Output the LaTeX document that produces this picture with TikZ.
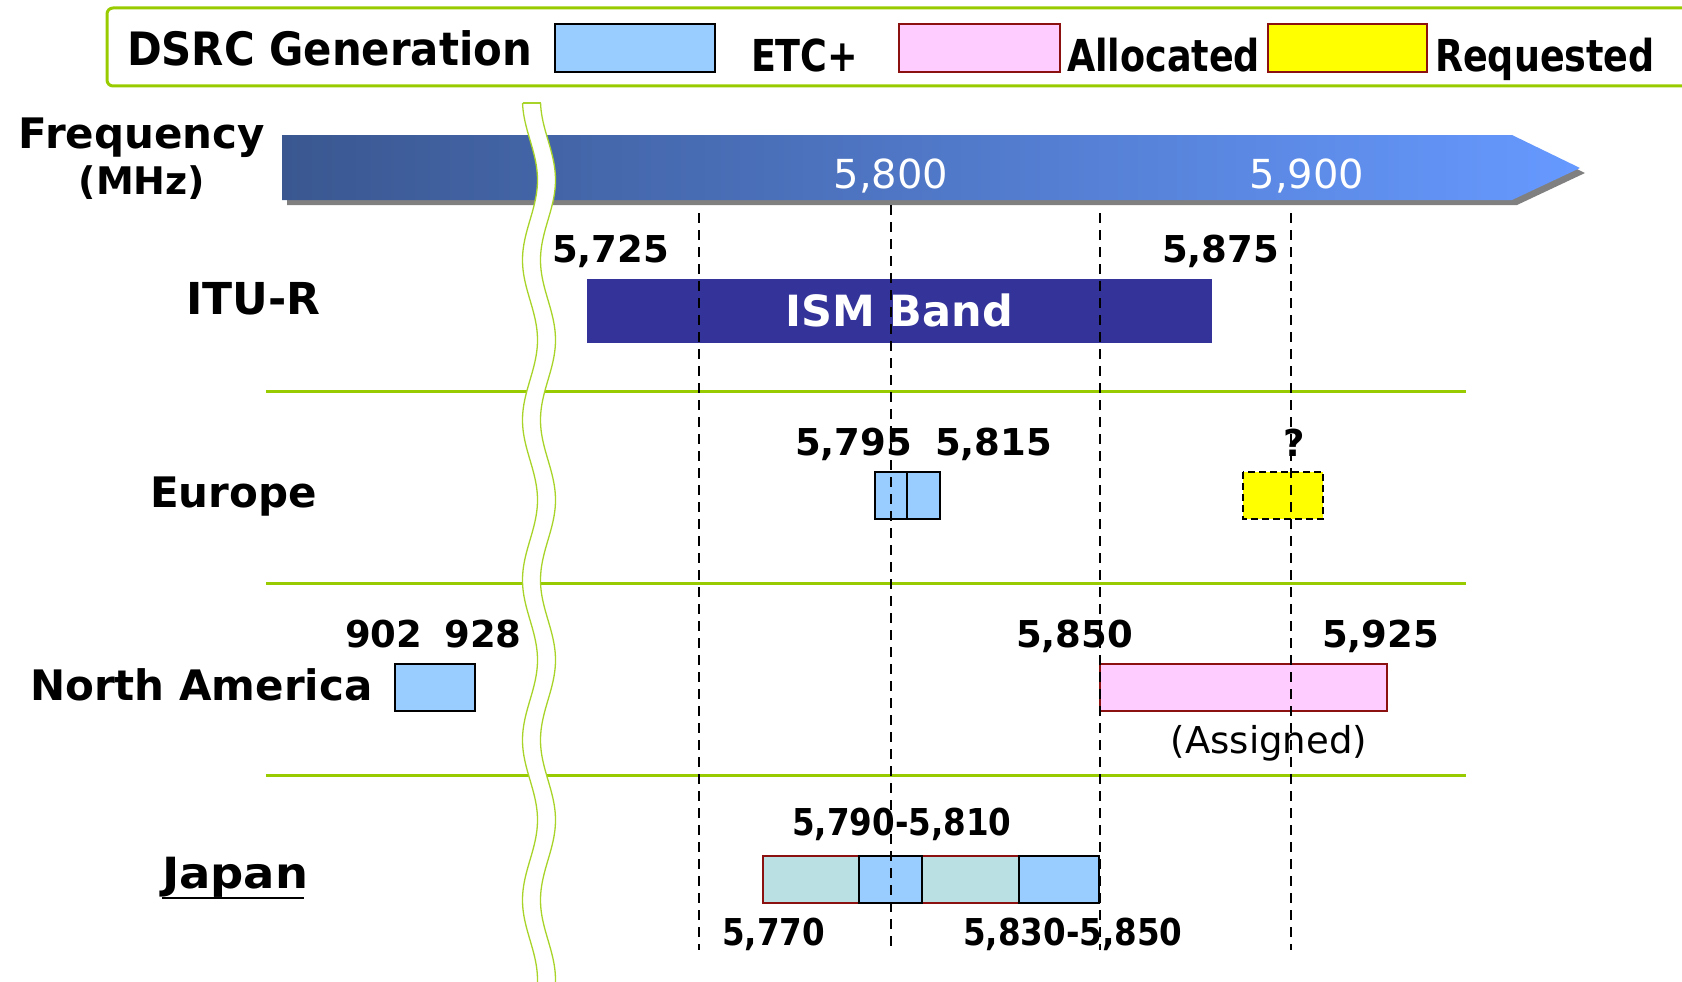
\documentclass[tikz,border=0pt]{standalone}
\usepackage{fontspec}
\setmainfont{DejaVu Sans}
\newfontfamily\condfont[FakeStretch=0.83]{DejaVu Sans}
\newfontfamily\dsrcfont[FakeStretch=0.91]{DejaVu Sans}
\newfontfamily\jpfont[FakeStretch=0.88]{DejaVu Sans}
\newfontfamily\jplabelfont[FakeStretch=1.08]{DejaVu Sans}
\newcommand\fsz[1]{\fontsize{#1}{#1}\selectfont}
\definecolor{lgreen}{HTML}{99CC00}
\definecolor{wgreen}{HTML}{A8D42A}
\definecolor{etcblue}{HTML}{99CCFF}
\definecolor{allocpink}{HTML}{FFCCFF}
\definecolor{reqyellow}{HTML}{FFFF00}
\definecolor{bred}{HTML}{8B1010}
\definecolor{ismblue}{HTML}{333399}
\definecolor{jteal}{HTML}{BBE0E3}
\definecolor{arrL}{HTML}{3A5790}
\definecolor{arrR}{HTML}{6699FF}
\definecolor{shadowgray}{HTML}{808080}
\begin{document}
\begin{tikzpicture}[x=1pt,y=-1pt,
  txt/.style={inner sep=0pt, outer sep=0pt},
  leg/.style={txt, anchor=base west, font=\condfont\bfseries\fsz{44}},
  rowlbl/.style={txt, anchor=base west, font=\bfseries\fsz{42}},
  num/.style={txt, anchor=base west, font=\bfseries\fsz{37}},
  jnum/.style={txt, anchor=base west, font=\jpfont\bfseries\fsz{37}},
  etcbox/.style={fill=etcblue, draw=black, line width=1.8pt},
  redbox/.style={draw=bred, line width=1.8pt},
  sep/.style={draw=lgreen, line width=3pt},
  guide/.style={draw=black, line width=2.7pt, dash pattern=on 10pt off 7pt}]
\useasboundingbox (0,0) rectangle (1682,982);

% legend
\draw[lgreen, line width=3pt, rounded corners=6pt] (1700,8) -- (107,8) -- (107,86) -- (1700,86);
\node[leg, font=\dsrcfont\bfseries\fsz{46}] (dsrc) at (127,66) {DSRC Generation};
\draw[etcbox] (555,24) rectangle (715,72);
\node[leg] (etc) at (751,71) {ETC+};
\draw[redbox, fill=allocpink] (899,24) rectangle (1060,72);
\node[leg] (alloc) at (1067,71) {Allocated};
\draw[redbox, fill=reqyellow] (1268,24) rectangle (1427,72);
\node[leg] (req) at (1435,71) {Requested};

% frequency arrow
\fill[shadowgray] (287,140) -- (1517,140) -- (1585,173) -- (1517,205) -- (287,205) -- cycle;
\shade[left color=arrL, right color=arrR] (282,135) -- (1512,135) -- (1580,168) -- (1512,200) -- (282,200) -- cycle;
\node[rowlbl] (freq) at (19,148) {Frequency};
\node[txt, anchor=base, font=\bfseries\fsz{38}] (mhz) at (142,194) {(MHz)};
\node[txt, anchor=base, font=\fsz{40}, text=white] (f5800) at (891,188) {5,800};
\node[txt, anchor=base, font=\fsz{40}, text=white] (f5900) at (1307,188) {5,900};

% separators
\draw[sep] (266,391) -- (1466,391);
\draw[sep] (266,583) -- (1466,583);
\draw[sep] (266,775) -- (1466,775);

% ITU-R row
\node[rowlbl, font=\bfseries\fsz{44}] (itu) at (186,314) {ITU-R};
\node[num] (n5725) at (552,262) {5,725};
\node[num] (n5875) at (1162,262) {5,875};
\fill[ismblue] (587,279) rectangle (1212,343);
\node[txt, anchor=base, font=\bfseries\fsz{43}, text=white] (ism) at (899,326) {ISM Band};

% Europe row
\node[rowlbl] (eu) at (150,507) {Europe};
\node[num] (n5795) at (795,455) {5,795};
\node[num] (n5815) at (935,455) {5,815};
\draw[etcbox] (875,472) rectangle (907,519);
\draw[etcbox] (907,472) rectangle (940,519);
\node[txt, anchor=base, font=\bfseries\fsz{37}] (q) at (1294,456) {?};
\draw[fill=reqyellow, draw=black, line width=2.4pt, dash pattern=on 7pt off 4pt] (1243,472) rectangle (1323,519);

% North America row
\node[rowlbl] (na) at (30,700) {North America};
\node[num] (n902) at (345,647) {902\hspace{0.6em}928};
\draw[etcbox] (395,664) rectangle (475,711);
\node[num] (n5850) at (1016,647) {5,850};
\node[num] (n5925) at (1322,647) {5,925};
\draw[redbox, fill=allocpink] (1100,664) rectangle (1387,711);
\node[txt, anchor=base, font=\fsz{37}] (assigned) at (1269,753) {(Assigned)};

% Japan row
\node[rowlbl, font=\jplabelfont\bfseries\fsz{43}] (jp) at (162,888) {Japan};
\draw[line width=2.5pt] (162,898) -- (304,898);
\node[jnum] (n5790) at (792,835) {5,790-5,810};
\draw[redbox, fill=jteal] (763,856) rectangle (859,903);
\draw[redbox, fill=jteal] (922,856) rectangle (1019,903);
\draw[etcbox] (859,856) rectangle (922,903);
\draw[etcbox] (1019,856) rectangle (1099,903);
\node[jnum] (n5770) at (722,945) {5,770};
\node[jnum] (n5830) at (963,945) {5,830-5,850};

% guide lines
\draw[guide] (699,213) -- (699,950);
\draw[guide] (891,205) -- (891,950);
\draw[guide] (1100,213) -- (1100,950);
\draw[guide] (1291,213) -- (1291,950);

% wavy break
\fill[white] plot[domain=103:990, samples=240] ({530-7.5*cos((\x-100)/80*180)}, {\x})
  -- plot[domain=990:103, samples=240] ({548-7.5*cos((\x-100)/80*180)}, {\x}) -- cycle;
\draw[wgreen, line width=1.3pt] plot[domain=103:990, samples=240] ({530-7.5*cos((\x-100)/80*180)}, {\x});
\draw[wgreen, line width=1.3pt] plot[domain=103:990, samples=240] ({548-7.5*cos((\x-100)/80*180)}, {\x});
\draw[wgreen, line width=1.3pt] (522.5,103) -- (540.5,103);
\end{tikzpicture}
\end{document}
